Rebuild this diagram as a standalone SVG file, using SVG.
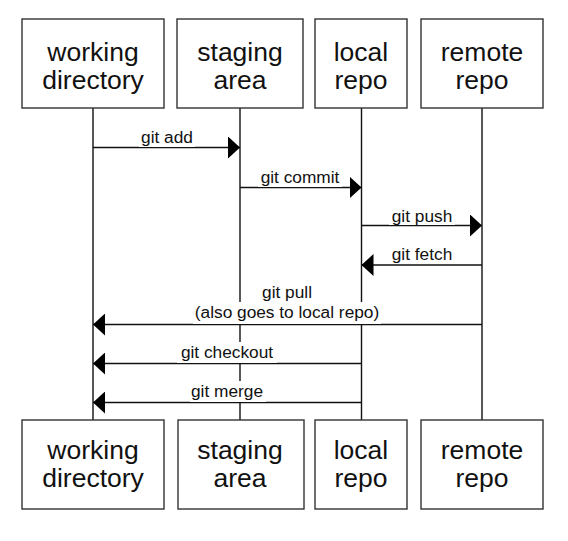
<svg xmlns="http://www.w3.org/2000/svg" width="568" height="541" viewBox="0 0 568 541">
<style>
  .box { fill: #fff; stroke: #333; stroke-width: 1.4; }
  .bl { font-family: "Liberation Sans", Arial, sans-serif; font-size: 26.5px; fill: #111; text-anchor: middle; }
  .life { stroke: #111; stroke-width: 1.4; fill: none; }
  .msg { stroke: #111; stroke-width: 1.4; fill: none; }
  .lab { font-family: "Liberation Sans", Arial, sans-serif; font-size: 17.3px; fill: #111; text-anchor: middle; }
  .bg { fill: #fff; }
</style>
<defs>
  <marker id="ah" viewBox="0 0 12 22" refX="12" refY="11" markerWidth="12" markerHeight="22" markerUnits="userSpaceOnUse" orient="auto">
    <path d="M0,0 L12,11 L0,22 Z" fill="#000"/>
  </marker>
</defs>
<rect width="568" height="541" fill="#fff"/>
<g id="lifelines">
  <line class="life" x1="93" y1="108" x2="93" y2="420"/>
  <line class="life" x1="240" y1="108" x2="240" y2="420"/>
  <line class="life" x1="361.5" y1="108" x2="361.5" y2="420"/>
  <line class="life" x1="482" y1="108" x2="482" y2="420"/>
</g>
<g id="connectors">
  <line class="msg" x1="93" y1="147.5" x2="240" y2="147.5" marker-end="url(#ah)"/>
  <line class="msg" x1="240" y1="187.5" x2="361.5" y2="187.5" marker-end="url(#ah)"/>
  <line class="msg" x1="361.5" y1="225.5" x2="482" y2="225.5" marker-end="url(#ah)"/>
  <line class="msg" x1="482" y1="265" x2="361.5" y2="265" marker-end="url(#ah)"/>
  <line class="msg" x1="482" y1="324.5" x2="93" y2="324.5" marker-end="url(#ah)"/>
  <line class="msg" x1="361.5" y1="363.5" x2="93" y2="363.5" marker-end="url(#ah)"/>
  <line class="msg" x1="361.5" y1="402.5" x2="93" y2="402.5" marker-end="url(#ah)"/>
</g>
<g id="labels">
  <rect class="bg" x="139" y="128" width="56" height="19"/>
  <text class="lab" x="167" y="143">git add</text>
  <rect class="bg" x="258" y="168" width="84" height="19"/>
  <text class="lab" x="300" y="183">git commit</text>
  <rect class="bg" x="389" y="206" width="66" height="19"/>
  <text class="lab" x="422" y="221.5">git push</text>
  <rect class="bg" x="389" y="245" width="66" height="19"/>
  <text class="lab" x="422" y="260">git fetch</text>
  <rect class="bg" x="259" y="283" width="56" height="19"/>
  <text class="lab" x="287" y="298">git pull</text>
  <rect class="bg" x="193" y="302" width="188" height="22"/>
  <text class="lab" x="287" y="318">(also goes to local repo)</text>
  <rect class="bg" x="177" y="342" width="100" height="21"/>
  <text class="lab" x="227" y="358">git checkout</text>
  <rect class="bg" x="190" y="381" width="76" height="21"/>
  <text class="lab" x="227" y="397">git merge</text>
</g>
<g id="top-working">
  <rect class="box" x="22" y="19" width="142" height="89"/>
  <text class="bl" x="93" y="61">working</text>
  <text class="bl" x="93" y="89">directory</text>
</g>
<g id="top-staging">
  <rect class="box" x="177" y="19" width="126" height="89"/>
  <text class="bl" x="240" y="61">staging</text>
  <text class="bl" x="240" y="89">area</text>
</g>
<g id="top-local">
  <rect class="box" x="315" y="19" width="92" height="89"/>
  <text class="bl" x="361" y="61">local</text>
  <text class="bl" x="361" y="89">repo</text>
</g>
<g id="top-remote">
  <rect class="box" x="421" y="19" width="122" height="89"/>
  <text class="bl" x="482" y="61">remote</text>
  <text class="bl" x="482" y="89">repo</text>
</g>
<g id="bottom-working">
  <rect class="box" x="22" y="420" width="142" height="89"/>
  <text class="bl" x="93" y="459">working</text>
  <text class="bl" x="93" y="487">directory</text>
</g>
<g id="bottom-staging">
  <rect class="box" x="178" y="420" width="126" height="89"/>
  <text class="bl" x="240" y="459">staging</text>
  <text class="bl" x="240" y="487">area</text>
</g>
<g id="bottom-local">
  <rect class="box" x="315" y="420" width="92" height="89"/>
  <text class="bl" x="361" y="459">local</text>
  <text class="bl" x="361" y="487">repo</text>
</g>
<g id="bottom-remote">
  <rect class="box" x="421" y="420" width="122" height="89"/>
  <text class="bl" x="482" y="459">remote</text>
  <text class="bl" x="482" y="487">repo</text>
</g>
</svg>
